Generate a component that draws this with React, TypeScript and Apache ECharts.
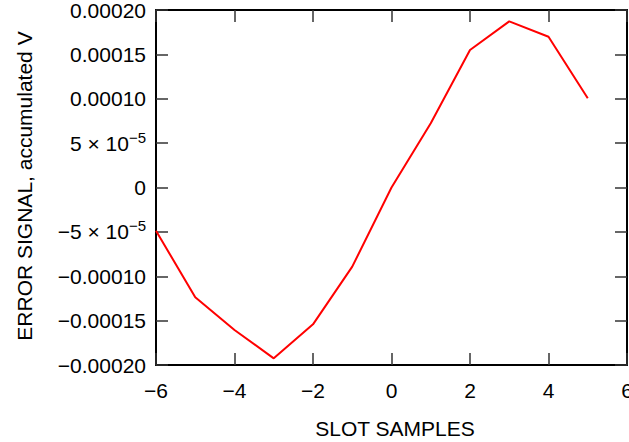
import React, { useEffect, useRef } from "react";
import * as echarts from "echarts";

// Slot offset (samples) vs. accumulated error signal (V)
const slotSamples = [-6, -5, -4, -3, -2, -1, 0, 1, 2, 3, 4, 5];
const errorSignal = [
  -0.0000487, -0.0001237, -0.0001606, -0.0001925, -0.0001542, -0.0000892,
  0.0, 0.0000723, 0.0001549, 0.0001872, 0.0001699, 0.0001005,
];

const yTickValues = [-0.0002, -0.00015, -0.0001, -0.00005, 0, 0.00005, 0.0001, 0.00015, 0.0002];
const yTickLabels = [
  "−0.00020",
  "−0.00015",
  "−0.00010",
  "{m|−5 × 10}{s|−5}",
  "0",
  "{m|5 × 10}{s|−5}",
  "0.00010",
  "0.00015",
  "0.00020",
];

const FONT = "Liberation Sans, Arial, sans-serif";
const FS = 21;
const W = 629;
const H = 442;

export default function App() {
  const ref = useRef<HTMLDivElement>(null);

  useEffect(() => {
    if (!ref.current) return;
    document.body.style.margin = "0";
    document.body.style.overflow = "hidden";
    const chart = echarts.init(ref.current, undefined, { renderer: "svg", width: W, height: H });

    const yLabel = (v: number) => {
      let best = 0;
      for (let i = 0; i < yTickValues.length; i++) {
        if (Math.abs(yTickValues[i] - v) < Math.abs(yTickValues[best] - v)) best = i;
      }
      return yTickLabels[best];
    };

    const tickStyle = { show: true, inside: true, length: 12, lineStyle: { color: "#333", width: 1.5 } };
    const frameLine = { show: true, onZero: false, lineStyle: { color: "#000", width: 2 } };

    chart.setOption({
      animation: false,
      backgroundColor: "#fff",
      grid: { left: 156, right: 2, top: 10, bottom: 77, containLabel: false, outerBoundsMode: "none" },
      xAxis: [
        {
          type: "value",
          min: -6,
          max: 6,
          interval: 2,
          position: "bottom",
          axisLine: frameLine,
          axisTick: tickStyle,
          splitLine: { show: false },
          axisLabel: {
            margin: 15,
            fontSize: FS,
            fontFamily: FONT,
            color: "#000",
            formatter: (v: number) => (v < 0 ? "−" + Math.abs(v) : String(v)),
          },
        },
        {
          type: "value",
          min: -6,
          max: 6,
          interval: 2,
          position: "top",
          axisLine: frameLine,
          axisTick: tickStyle,
          splitLine: { show: false },
          axisLabel: { show: false },
        },
      ],
      yAxis: [
        {
          type: "value",
          min: -0.0002,
          max: 0.0002,
          interval: 0.00005,
          position: "left",
          axisLine: frameLine,
          axisTick: tickStyle,
          splitLine: { show: false },
          axisLabel: {
            margin: 10,
            fontSize: FS,
            fontFamily: FONT,
            color: "#000",
            formatter: yLabel,
            rich: {
              m: { fontSize: FS, fontFamily: FONT, color: "#000" },
              s: { fontSize: 15, fontFamily: FONT, color: "#000", padding: [0, 0, 12, 0] },
            },
          },
        },
        {
          type: "value",
          min: -0.0002,
          max: 0.0002,
          interval: 0.00005,
          position: "right",
          axisLine: frameLine,
          axisTick: tickStyle,
          splitLine: { show: false },
          axisLabel: { show: false },
        },
      ],
      series: [
        {
          type: "line",
          xAxisIndex: 0,
          yAxisIndex: 0,
          data: slotSamples.map((x, i) => [x, errorSignal[i]]),
          showSymbol: false,
          lineStyle: { color: "#ff0000", width: 2 },
          clip: false,
        },
      ],
      graphic: [
        {
          type: "text",
          x: 24,
          y: 186,
          rotation: Math.PI / 2,
          style: {
            text: "ERROR SIGNAL, accumulated V",
            font: `${FS}px ${FONT}`,
            fill: "#000",
            align: "center",
            verticalAlign: "middle",
          },
        },
        {
          type: "text",
          x: 395,
          y: 428,
          style: {
            text: "SLOT SAMPLES",
            font: `${FS}px ${FONT}`,
            fill: "#000",
            align: "center",
            verticalAlign: "middle",
          },
        },
      ],
    });

    return () => chart.dispose();
  }, []);

  return <div ref={ref} style={{ width: W, height: H, position: "absolute", left: 0, top: 0 }} />;
}
